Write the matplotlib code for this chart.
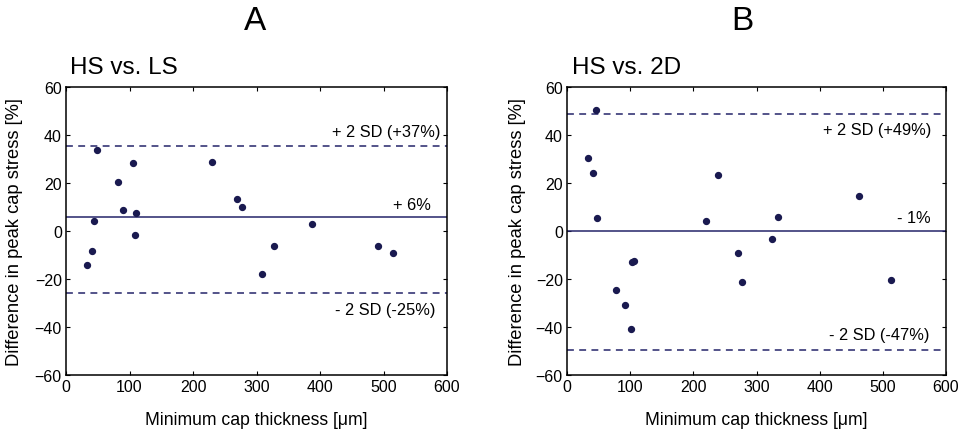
import matplotlib
matplotlib.use("Agg")
import matplotlib.pyplot as plt
import numpy as np

plt.rcParams['font.family'] = ['Liberation Sans', 'DejaVu Sans']

# panel A: HS vs. LS
a_thick = [33.6, 41, 44.7, 49.4, 82, 90.4, 106, 108.8, 110, 229.6, 269.6, 277, 308.5, 327.4, 387.3, 490.8, 514.4]
a_diff = [-14.2, -8.3, 4.0, 33.6, 20.3, 8.9, 28.5, -1.8, 7.6, 28.6, 13.4, 10.2, -17.8, -6.1, 2.8, -6.4, -9.3]
a_lines = [5.8, 35.6, -26.0]          # mean, +2SD, -2SD
a_labels = ["+ 6%", "+ 2 SD (+37%)", "- 2 SD (-25%)"]

# panel B: HS vs. 2D
b_thick = [33.2, 41.1, 45.9, 46.9, 77.5, 92.3, 101.7, 102.8, 106.5, 220.3, 239.3, 271, 277.3, 325.3, 334.7, 462.8, 512.4]
b_diff = [30.4, 24.3, 50.3, 5.6, -24.6, -30.8, -40.7, -13.1, -12.6, 4.0, 23.5, -9.3, -21.3, -3.2, 5.8, 14.6, -20.6]
b_lines = [0.0, 48.6, -49.6]
b_labels = ["- 1%", "+ 2 SD (+49%)", "- 2 SD (-47%)"]

navy = '#24246a'
dot = '#1a1a50'

W, H = 966, 431
fig = plt.figure(figsize=(W / 100, H / 100), dpi=100)

def px(x0, y0, x1, y1):
    return [x0 / W, 1 - y1 / H, (x1 - x0) / W, (y1 - y0) / H]

def panel(rect, thick, diff, lines, labels, label_pos, subtitle, sub_x, letter, letter_x, ylab_x):
    ax = fig.add_axes(rect)
    ax.scatter(thick, diff, s=18, color=dot, zorder=3)
    ax.axhline(lines[0], color=navy, lw=1.1)
    ax.axhline(lines[1], color=navy, lw=1.1, ls=(0, (4.5, 3.5)))
    ax.axhline(lines[2], color=navy, lw=1.1, ls=(0, (4.5, 3.5)))
    for lab, (lx, ly) in zip(labels, label_pos):
        ax.text(lx, ly, lab, ha='right', va='center', fontsize=11.8)
    ax.set_xlim(0, 600)
    ax.set_ylim(-60, 60)
    ax.set_xticks(np.arange(0, 601, 100))
    ax.set_yticks(np.arange(-60, 61, 20))
    ax.tick_params(direction='in', length=3, width=0.8, top=True, right=True, labelsize=11.5, pad=3)
    for s in ax.spines.values():
        s.set_linewidth(1.1)
    ax.set_xlabel("Minimum cap thickness [μm]", fontsize=12.7, labelpad=12)
    ax.set_ylabel("Difference in peak cap stress [%]", fontsize=13.2, va='center')
    ax.yaxis.set_label_coords((ylab_x - rect[0] * W) / (rect[2] * W), 0.5)
    fig.text(sub_x / W, 1 - 68 / H, subtitle, fontsize=17.5, ha='left', va='center')
    fig.text(letter_x / W, 1 - 22 / H, letter, fontsize=24, ha='center', va='center')
    return ax

panel(px(66, 88, 447, 376), a_thick, a_diff, a_lines, a_labels,
      [(574, 10.9), (590, 41.4), (582, -32.6)], "HS vs. LS", 70, "A", 255, 15)
panel(px(567, 88, 946, 376), b_thick, b_diff, b_lines, b_labels,
      [(575, 5.8), (576, 42.2), (573, -43.3)], "HS vs. 2D", 572, "B", 742, 518)

fig.savefig("out.png", dpi=100)
